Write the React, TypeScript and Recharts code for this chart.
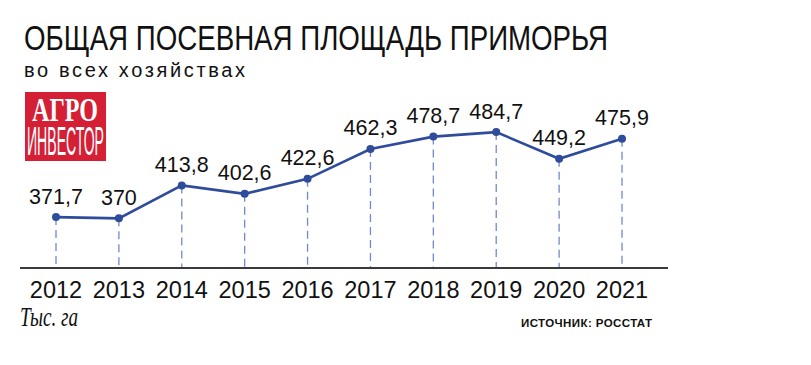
import React from "react";
import { LineChart, Line, XAxis, YAxis, ReferenceLine, LabelList } from "recharts";

const years = ["2012", "2013", "2014", "2015", "2016", "2017", "2018", "2019", "2020", "2021"];
const areaValues = [371.7, 370, 413.8, 402.6, 422.6, 462.3, 478.7, 484.7, 449.2, 475.9];
const yDomain: [number, number] = [304, 500];

const data = years.map((year, i) => ({ year, value: areaValues[i] }));

const LINE = "#2f4b9c";
const DASH = "#6f8acb";

const fmt = (v: number) => String(v).replace(".", ",");

const YearTick = (props: any) => {
  const { x, y, payload } = props;
  return (
    <text x={x} y={y} dy={22} textAnchor="middle" fill="#111"
      style={{ fontFamily: "'Liberation Sans Narrow', 'Liberation Sans', Arial, sans-serif", fontSize: 23.5 }}>
      {payload.value}
    </text>
  );
};

const ValueLabel = (props: any) => {
  const { x, y, value } = props;
  return (
    <text x={x} y={y} dy={-13.5} textAnchor="middle" fill="#111"
      style={{ fontFamily: "'Liberation Sans', Arial, sans-serif", fontSize: 21.5 }}>
      {fmt(value)}
    </text>
  );
};

export default function App() {
  return (
    <div style={{ position: "absolute", left: 0, top: 0, width: 811, height: 365, background: "#fff" }}>
      <LineChart width={811} height={365} data={data}
        margin={{ top: 120.6, right: 143, bottom: 67, left: 20 }}>
        <XAxis dataKey="year" height={30} axisLine={{ stroke: "#3a3a3a", strokeWidth: 2 }}
          tickLine={false} tick={<YearTick />} padding={{ left: 36, right: 46 }} interval={0} />
        <YAxis hide domain={yDomain} type="number" allowDataOverflow />
        {data.map((d) => (
          <ReferenceLine key={d.year}
            segment={[{ x: d.year, y: d.value }, { x: d.year, y: yDomain[0] }]}
            stroke={DASH} strokeWidth={1.3} strokeDasharray="8 5" ifOverflow="visible" />
        ))}
        <Line dataKey="value" stroke={LINE} strokeWidth={2.6} isAnimationActive={false}
          dot={{ r: 4, fill: LINE, stroke: LINE, strokeWidth: 0 }}>
          <LabelList dataKey="value" content={<ValueLabel />} />
        </Line>
      </LineChart>
      <svg width={811} height={365} style={{ position: "absolute", left: 0, top: 0, pointerEvents: "none" }}>
        <text x={24} y={50} textLength={584} lengthAdjust="spacingAndGlyphs" fill="#111"
          style={{ fontFamily: "'Liberation Sans Narrow', 'Liberation Sans', sans-serif", fontSize: 34.5 }}>
          ОБЩАЯ ПОСЕВНАЯ ПЛОЩАДЬ ПРИМОРЬЯ
        </text>
        <text x={24} y={76.7} textLength={221} lengthAdjust="spacing" fill="#111"
          style={{ fontFamily: "'Liberation Sans Narrow', 'Liberation Sans', sans-serif", fontSize: 20 }}>
          во всех хозяйствах
        </text>
        <rect x={25} y={92} width={81} height={69} fill="#d41f35" />
        <g transform="translate(32,121.3) scale(1,1.5)">
          <text x={0} y={0} textLength={66} lengthAdjust="spacingAndGlyphs" fill="#fff"
            style={{ fontFamily: "'Liberation Serif', serif", fontWeight: 700, fontSize: 22 }}>
            АГРО
          </text>
        </g>
        <g transform="translate(27,154.7) scale(1,2.6)">
          <text x={0} y={0} textLength={77} lengthAdjust="spacingAndGlyphs" fill="#fff"
            style={{ fontFamily: "'Liberation Sans Narrow', 'Liberation Sans', sans-serif", fontSize: 15.5 }}>
            ИНВЕСТОР
          </text>
        </g>
        <text x={20} y={325.5} textLength={58} lengthAdjust="spacingAndGlyphs" fill="#111"
          style={{ fontFamily: "'Liberation Serif', serif", fontStyle: "italic", fontSize: 27 }}>
          Тыс. га
        </text>
        <text x={521} y={326.7} textLength={131} lengthAdjust="spacing" fill="#111"
          style={{ fontFamily: "'Liberation Sans Narrow', 'Liberation Sans', sans-serif", fontWeight: 700, fontSize: 11.5 }}>
          ИСТОЧНИК: РОССТАТ
        </text>
      </svg>
    </div>
  );
}
